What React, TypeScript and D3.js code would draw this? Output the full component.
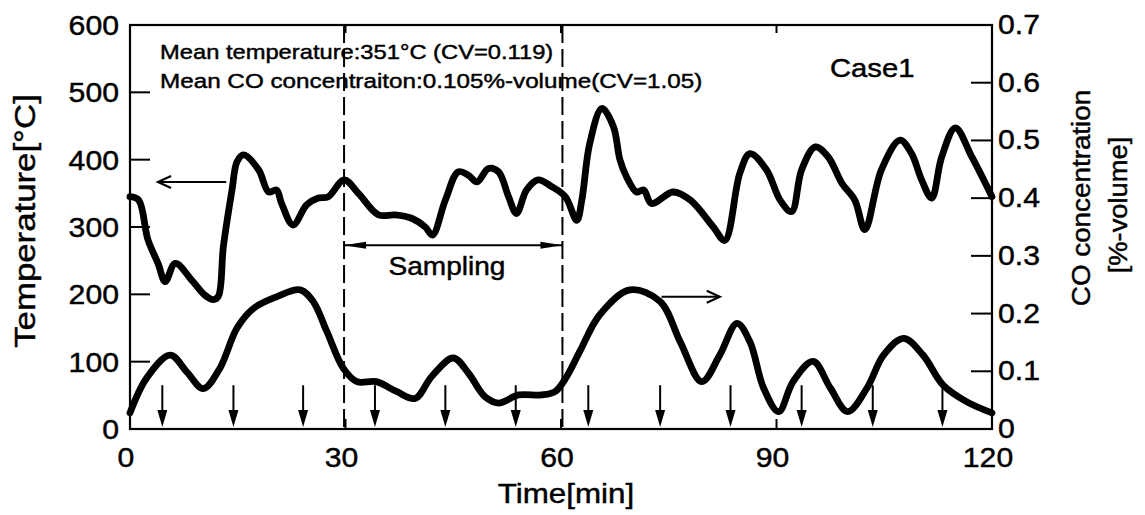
import React from "react";
import * as d3 from "d3";

// ---- data ----
const tempTime = [0, 1.2, 2.5, 3.9, 4.9, 6.3, 8.6, 10.4, 11.6, 12.3, 13.0, 14.2, 14.9, 15.8, 17.9, 19.3, 20.4, 21.1, 22.7, 24.6, 26.2, 27.6, 29.8, 31.8, 34.6, 36.9, 39.2, 41.1, 42.1, 43.9, 45.7, 47.1, 48.3, 49.9, 51.3, 52.7, 53.8, 55.2, 56.8, 58.7, 60.6, 62.2, 62.9, 64.0, 65.7, 67.3, 68.2, 69.1, 70.5, 71.5, 72.6, 75.6, 78.0, 81.2, 82.8, 84.9, 86.3, 88.6, 90.5, 92.1, 93.5, 95.4, 97.2, 99.1, 100.9, 102.3, 104.6, 107.2, 108.8, 110.2, 111.6, 113.0, 114.9, 117.2, 120];
const tempValue = [345, 340, 281, 246, 219, 246, 221, 199, 192, 197, 271, 355, 397, 407, 385, 352, 355, 335, 303, 333, 343, 345, 370, 350, 318, 318, 313, 300, 288, 340, 382, 377, 367, 387, 382, 345, 320, 355, 370, 360, 345, 310, 340, 424, 476, 449, 400, 375, 352, 355, 335, 352, 340, 300, 280, 380, 409, 385, 340, 323, 385, 419, 404, 365, 340, 296, 385, 429, 409, 370, 343, 404, 447, 404, 345];

const coTime = [0, 2.3, 5.6, 7.9, 10.2, 12.5, 14.9, 17.2, 20.4, 23.7, 25.5, 27.4, 29.7, 31.6, 34.3, 37.1, 39.7, 42.0, 45.0, 47.1, 49.4, 51.3, 54.1, 57.3, 59.2, 60.8, 62.6, 65.4, 69.6, 73.8, 76.6, 79.6, 82.1, 84.5, 86.3, 88.2, 90.3, 92.3, 95.1, 97.5, 99.9, 102.6, 104.9, 107.7, 110.4, 113.2, 116.5, 120];
const coValue = [0.028, 0.088, 0.128, 0.099, 0.070, 0.105, 0.175, 0.209, 0.229, 0.241, 0.221, 0.169, 0.105, 0.082, 0.082, 0.065, 0.053, 0.091, 0.123, 0.097, 0.056, 0.045, 0.059, 0.059, 0.065, 0.091, 0.134, 0.198, 0.241, 0.221, 0.151, 0.082, 0.128, 0.183, 0.151, 0.071, 0.030, 0.082, 0.117, 0.071, 0.030, 0.071, 0.128, 0.157, 0.128, 0.076, 0.047, 0.028];

const xTicks = [0, 30, 60, 90, 120];
const tempTicks = [0, 100, 200, 300, 400, 500, 600];
const coTicks = [0, 0.1, 0.2, 0.3, 0.4, 0.5, 0.6, 0.7];
const coTickLabels = ["0", "0.1", "0.2", "0.3", "0.4", "0.5", "0.6", "0.7"];

const samplingStart = 29.8;
const samplingEnd = 60.2;
const samplingLevel = 273; // temperature units
const sampleArrows = [4.5, 14.4, 24.1, 34.1, 43.9, 53.7, 63.8, 73.8, 83.6, 93.5, 103.4, 113.1];
const sampleArrowTop = 65; // temperature units
const tempArrow = { from: 13.4, to: 3.9, level: 367 };
const coArrow = { from: 74, to: 82.1, level: 0.229 };

const annotation1 = "Mean temperature:351\u00B0C (CV=0.119)";
const annotation2 = "Mean CO concentraiton:0.105%-volume(CV=1.05)";
const caseLabel = "Case1";

type TProps = { x: number; y: number; fs: number; sx: number; anchor?: string; rot?: number; children: React.ReactNode };
function WText({ x, y, fs, sx, anchor = "start", rot = 0, children }: TProps) {
  return (
    <text
      transform={`translate(${x},${y}) rotate(${rot}) scale(${sx},1)`}
      textAnchor={anchor}
      fontSize={fs}
      fill="#000"
      stroke="#000"
      strokeWidth={0.45}
    >
      {children}
    </text>
  );
}

export default function App() {
  const L = 130, R = 992, T = 25, B = 429;
  const x = d3.scaleLinear().domain([0, 120]).range([L, R]);
  const yT = d3.scaleLinear().domain([0, 600]).range([B, T]);
  const yC = d3.scaleLinear().domain([0, 0.7]).range([B, T]);

  const tempPts: [number, number][] = tempTime.map((t, i) => [t, tempValue[i]]);
  const coPts: [number, number][] = coTime.map((t, i) => [t, coValue[i]]);
  const tempLine = d3.line<[number, number]>().x(d => x(d[0])).y(d => yT(d[1])).curve(d3.curveCatmullRom.alpha(0.5));
  const coLine = d3.line<[number, number]>().x(d => x(d[0])).y(d => yC(d[1])).curve(d3.curveCatmullRom.alpha(0.5));

  const font = "'Liberation Sans', Arial, Helvetica, sans-serif";
  const tickFs = 28.5;
  const tickSx = 1.06;

  const la = { x1: x(tempArrow.from), x2: x(tempArrow.to), y: yT(tempArrow.level) };
  const ra = { x1: x(coArrow.from), x2: x(coArrow.to), y: yC(coArrow.level) };
  const sy = yT(samplingLevel);
  const sx1 = x(samplingStart), sx2 = x(samplingEnd);

  return (
    <svg width={1145} height={515} style={{ position: "absolute", left: 0, top: 0, background: "#fff" }} fontFamily={font}>
      <rect x={0} y={0} width={1145} height={515} fill="#fff" />
      {[samplingStart, samplingEnd].map((t, i) => (
        <line key={"d" + i} x1={x(t)} x2={x(t)} y1={T} y2={B} stroke="#000" strokeWidth={2} strokeDasharray="18,6" />
      ))}
      <rect x={L} y={T} width={R - L} height={B - T} fill="none" stroke="#000" strokeWidth={2.2} />
      {tempTicks.map(v => (
        <g key={"lt" + v}>
          <line x1={L} x2={L + 20} y1={yT(v)} y2={yT(v)} stroke="#000" strokeWidth={2} />
          <WText x={119} y={yT(v) + 10} fs={tickFs} sx={tickSx} anchor="end">{v}</WText>
        </g>
      ))}
      {coTicks.map((v, i) => (
        <g key={"rt" + i}>
          <line x1={R - 21} x2={R} y1={yC(v)} y2={yC(v)} stroke="#000" strokeWidth={2} />
          <WText x={998} y={yC(v) + 9} fs={tickFs} sx={tickSx}>{coTickLabels[i]}</WText>
        </g>
      ))}
      {xTicks.map(v => (
        <g key={"xt" + v}>
          <line x1={x(v)} x2={x(v)} y1={B} y2={B - 10} stroke="#000" strokeWidth={2} />
          <line x1={x(v)} x2={x(v)} y1={T} y2={T + 8} stroke="#000" strokeWidth={2} />
          <WText x={x(v) - 4} y={467} fs={tickFs} sx={tickSx} anchor="middle">{v}</WText>
        </g>
      ))}
      <path d={tempLine(tempPts) || ""} fill="none" stroke="#000" strokeWidth={6.8} strokeLinejoin="round" strokeLinecap="round" />
      <path d={coLine(coPts) || ""} fill="none" stroke="#000" strokeWidth={6.8} strokeLinejoin="round" strokeLinecap="round" />
      {sampleArrows.map((t, i) => {
        const ax = x(t), top = yT(sampleArrowTop), tip = B - 2;
        return (
          <g key={"sa" + i}>
            <line x1={ax} x2={ax} y1={top} y2={tip - 10} stroke="#000" strokeWidth={2} />
            <path d={`M${ax - 5},${tip - 17} L${ax + 5},${tip - 17} L${ax},${tip} Z`} fill="#000" />
          </g>
        );
      })}
      <line x1={la.x1} x2={la.x2 + 2} y1={la.y} y2={la.y} stroke="#000" strokeWidth={2} />
      <path d={`M${la.x2 + 13},${la.y - 6} L${la.x2},${la.y} L${la.x2 + 13},${la.y + 6}`} fill="none" stroke="#000" strokeWidth={2.2} />
      <line x1={ra.x1} x2={ra.x2 - 2} y1={ra.y} y2={ra.y} stroke="#000" strokeWidth={2} />
      <path d={`M${ra.x2 - 13},${ra.y - 6} L${ra.x2},${ra.y} L${ra.x2 - 13},${ra.y + 6}`} fill="none" stroke="#000" strokeWidth={2.2} />
      <line x1={sx1} x2={sx2} y1={sy} y2={sy} stroke="#000" strokeWidth={2} />
      <path d={`M${sx1},${sy} L${sx1 + 22},${sy - 3.5} L${sx1 + 22},${sy + 3.5} Z`} fill="#000" />
      <path d={`M${sx2},${sy} L${sx2 - 22},${sy - 3.5} L${sx2 - 22},${sy + 3.5} Z`} fill="#000" />
      <WText x={447} y={275} fs={25.5} sx={1.1} anchor="middle">Sampling</WText>
      <WText x={160} y={59} fs={21} sx={1.13}>{annotation1}</WText>
      <WText x={160} y={88} fs={21} sx={1.155}>{annotation2}</WText>
      <WText x={830} y={77} fs={25} sx={1.17}>{caseLabel}</WText>
      <WText x={566} y={503} fs={27.5} sx={1.14} anchor="middle">Time[min]</WText>
      <WText x={35} y={221} fs={30} sx={1.16} anchor="middle" rot={-90}>Temperature[°C]</WText>
      <WText x={1090} y={198} fs={26} sx={1.07} anchor="middle" rot={-90}>CO concentration</WText>
      <WText x={1127} y={205} fs={26} sx={1.05} anchor="middle" rot={-90}>[%-volume]</WText>
    </svg>
  );
}
